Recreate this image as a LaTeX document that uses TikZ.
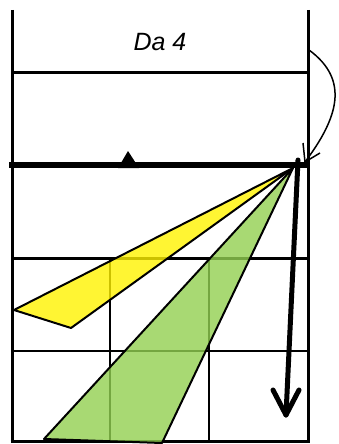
\documentclass[tikz,border=0pt]{standalone}
\usepackage{fontspec}
\setmainfont{Liberation Sans}
\definecolor{ygreen}{HTML}{92D050}
\begin{document}
\begin{tikzpicture}[x=1pt,y=-1pt,
  frame/.style={line width=3pt},
  thin/.style={line width=1.3pt},
  wedge/.style={draw=black,line width=2pt,line join=round,fill opacity=0.8},
  bold/.style={line width=5pt,line cap=round,line join=round}]
\useasboundingbox (0,0) rectangle (338,444);
% grid (under wedges)
\draw[thin] (110,258) -- (110,441);
\draw[thin] (209,258) -- (209,441);
\draw[thin] (12,351) -- (308,351);
% frame
\draw[frame] (12,10) -- (12,441);
\draw[frame] (308,10) -- (308,441);
\draw[frame] (10.5,441) -- (309.5,441);
\draw[frame] (12,72) -- (308,72);
\draw[frame] (12,258) -- (308,258);
\node[font=\itshape\fontsize{25}{30}\selectfont] (title) at (160,42) {Da 4};
% wedges
\coordinate (apex) at (293,168);
\filldraw[wedge,fill=yellow] (apex) -- (14,310) -- (71,328) -- cycle;
\filldraw[wedge,fill=ygreen] (apex) -- (44,439) -- (162,443) -- cycle;
% thick horizontal and triangle
\draw[line width=6pt] (9,165) -- (308,165);
\fill (128,151) -- (118,168) -- (139,168) -- cycle;
% curved arrow
\coordinate (cs) at (309,50);
\coordinate (ct) at (305,162);
\draw[line width=1.5pt] (cs) .. controls (350,80) and (338,118) .. (ct);
\draw[line width=1.5pt] (303,143) -- (ct) -- (320,153);
% thick arrow
\coordinate (as) at (298,160);
\coordinate (at) at (286,415);
\draw[bold] (as) -- (at);
\draw[bold] (273,390) -- (at) -- (299,390);
\end{tikzpicture}
\end{document}
